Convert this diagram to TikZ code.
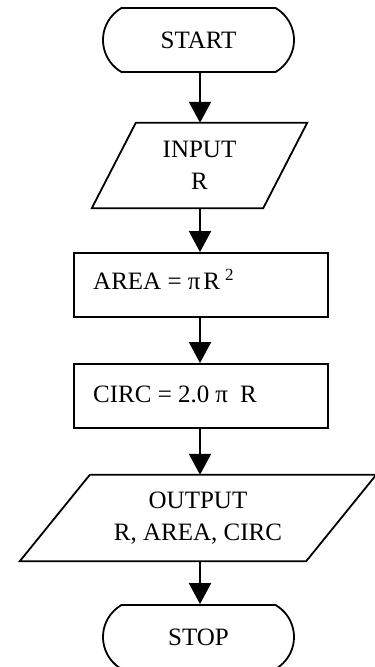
\documentclass[tikz,border=0pt]{standalone}
\usepackage{fontspec}
\setmainfont{Liberation Serif}
\usetikzlibrary{arrows.meta,shapes.misc,calc}
\tikzset{
  lbl/.style={font=\fontsize{25}{32}\selectfont, inner sep=0pt, align=center},
  term/.style={lbl, draw, line width=1.8pt, rounded rectangle, rounded rectangle arc length=120,
               minimum width=191, minimum height=64},
  procbox/.style={lbl, draw, line width=1.8pt, rectangle, minimum width=254, minimum height=64},
  iobox/.style={lbl, rectangle},
  flow/.style={line width=1.8pt, -{Triangle[length=21pt,width=22pt]}},
  edge/.style={line width=1.8pt, line join=miter},
}
\begin{document}
\begin{tikzpicture}[x=1pt, y=-1pt]
  \useasboundingbox (0,0) rectangle (375,667);

  % terminals
  \node[term] (start) at (198.5,40) {START};
  \node[term] (stop)  at (198.5,637) {STOP};

  % input parallelogram
  \node[iobox, minimum width=215, minimum height=85] (in) at (199.5,165.5) {INPUT\\R};
  \draw[edge] ($(in.north west)+(44,0)$) -- (in.north east)
              -- ($(in.south east)+(-44,0)$) -- (in.south west) -- cycle;

  % processing steps
  \node[procbox] (area) at (201,285) {};
  \node[lbl, anchor=base west] (areatxt) at (93,289)
    {AREA = π\kern3pt R\kern5pt\raisebox{9pt}{\fontsize{17}{17}\selectfont 2}};
  \node[procbox] (circ) at (201,396) {};
  \node[lbl, anchor=base west] (circtxt) at (93,402) {CIRC = 2.0\kern6pt π\kern12pt R};

  % output parallelogram
  \node[iobox, minimum width=356, minimum height=86] (out) at (198,518)
    {OUTPUT\\R, AREA, CIRC};
  \draw[edge] ($(out.north west)+(70,0)$) -- (out.north east)
              -- ($(out.south east)+(-70,0)$) -- (out.south west) -- cycle;

  % flow lines
  \draw[flow] (200,72) coordinate (a0) -- (a0 |- in.north);
  \draw[flow] (200,208) coordinate (a1) -- (a1 |- area.north);
  \draw[flow] (200,317) coordinate (a2) -- (a2 |- circ.north);
  \draw[flow] (200,428) coordinate (a3) -- (a3 |- out.north);
  \draw[flow] (200,561) coordinate (a4) -- (a4 |- stop.north);
\end{tikzpicture}
\end{document}
